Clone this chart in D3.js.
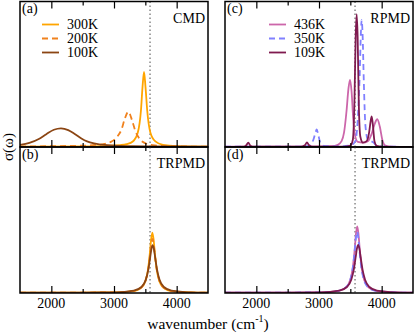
<!DOCTYPE html>
<html>
<head>
<meta charset="utf-8">
<script src="https://cdn.jsdelivr.net/npm/d3@7"></script>
<style>
  body { margin: 0; background: #fff; }
  svg text { font-family: "Liberation Serif", "Times New Roman", "DejaVu Serif", serif; fill: #000; }
</style>
</head>
<body>
<svg id="chart" width="415" height="334"></svg>
<script>
const xTicks = [2000, 3000, 4000];
const xMinor = [2500, 3500];
const refLine = 3575; // dotted reference position

const cmdTemps = ["300K", "200K", "100K"];
const rpmdTemps = ["436K", "350K", "109K"];

// panel (a) CMD, [wavenumber, intensity]
const cmd300 = [[1500,0.002],[2500,0.004],[2900,0.008],[3100,0.013],[3200,0.02],[3300,0.038],[3380,0.1],[3430,0.25],[3455,0.41],[3479,0.514],[3503,0.41],[3530,0.25],[3580,0.1],[3660,0.038],[3780,0.015],[4000,0.006],[4500,0.003]];
const cmd200 = [[1500,0.004],[2400,0.008],[2700,0.014],[2850,0.022],[2950,0.035],[3050,0.07],[3120,0.12],[3170,0.19],[3228,0.242],[3290,0.18],[3340,0.11],[3420,0.05],[3520,0.022],[3650,0.011],[4000,0.005],[4500,0.002]];
const cmd100 = [[1500,0.014],[1650,0.028],[1800,0.055],[1920,0.088],[2040,0.118],[2154,0.128],[2270,0.116],[2380,0.087],[2480,0.058],[2570,0.038],[2680,0.024],[2800,0.016],[3000,0.009],[3300,0.006],[3600,0.004],[4500,0.002]];

// panel (b) TRPMD, same temperatures as (a)
const trpA300 = [[1500,0.002],[2500,0.003],[3000,0.004],[3312,0.013],[3432,0.035],[3502,0.083],[3542,0.158],[3572,0.271],[3592,0.366],[3612,0.414],[3632,0.366],[3652,0.271],[3682,0.158],[3722,0.083],[3792,0.035],[3912,0.013],[4212,0.004],[4500,0.002]];
const trpA200 = [[1500,0.002],[2500,0.003],[3014,0.004],[3314,0.014],[3434,0.037],[3504,0.085],[3544,0.157],[3574,0.256],[3594,0.333],[3614,0.37],[3634,0.333],[3654,0.256],[3684,0.157],[3724,0.085],[3794,0.037],[3914,0.014],[4214,0.004],[4500,0.002]];
const trpA100 = [[1500,0.002],[2500,0.003],[3017,0.004],[3317,0.016],[3437,0.041],[3507,0.09],[3547,0.159],[3577,0.243],[3597,0.301],[3617,0.327],[3637,0.301],[3657,0.243],[3687,0.159],[3727,0.09],[3797,0.041],[3917,0.016],[4217,0.004],[4500,0.002]];

// panel (c) RPMD
const rpmd436 = [[1500,0.002],[2800,0.003],[3200,0.006],[3300,0.015],[3360,0.04],[3400,0.1],[3440,0.25],[3470,0.4],[3495,0.46],[3520,0.38],[3545,0.2],[3575,0.08],[3620,0.035],[3700,0.03],[3780,0.04],[3840,0.09],[3890,0.16],[3930,0.19],[3970,0.14],[4010,0.05],[4060,0.01],[4150,0.003],[4500,0.001]];
const rpmd350 = [[1500,0.002],[2700,0.003],[2850,0.01],[2910,0.05],[2945,0.1],[2963,0.12],[2985,0.09],[3020,0.03],[3080,0.008],[3300,0.004],[3500,0.01],[3580,0.04],[3620,0.2],[3650,0.5],[3670,0.8],[3681,0.87],[3695,0.78],[3715,0.45],[3740,0.15],[3780,0.05],[3830,0.04],[3870,0.03],[3920,0.01],[4000,0.003],[4500,0.001]];
const rpmd109 = [[1500,0.001],[1800,0.002],[1840,0.012],[1872,0.03],[1900,0.012],[1940,0.002],[2700,0.002],[2775,0.012],[2808,0.032],[2840,0.012],[2900,0.002],[3400,0.002],[3500,0.01],[3540,0.05],[3565,0.3],[3585,0.75],[3601,0.91],[3617,0.75],[3635,0.3],[3660,0.07],[3700,0.03],[3760,0.04],[3800,0.1],[3825,0.18],[3841,0.21],[3860,0.15],[3885,0.04],[3920,0.008],[4000,0.002],[4500,0.001]];

// panel (d) TRPMD, same temperatures as (c)
const trpC436 = [[1500,0.002],[2500,0.003],[3010,0.004],[3310,0.015],[3430,0.039],[3500,0.091],[3540,0.175],[3570,0.299],[3590,0.404],[3610,0.457],[3630,0.404],[3650,0.299],[3680,0.175],[3720,0.091],[3790,0.039],[3910,0.015],[4210,0.004],[4500,0.002]];
const trpC350 = [[1500,0.002],[2500,0.003],[3008,0.004],[3308,0.015],[3428,0.038],[3498,0.089],[3538,0.168],[3568,0.282],[3588,0.374],[3608,0.42],[3628,0.374],[3648,0.282],[3678,0.168],[3718,0.089],[3788,0.038],[3908,0.015],[4208,0.004],[4500,0.002]];
const trpC109 = [[1500,0.002],[2500,0.003],[3025,0.004],[3325,0.016],[3445,0.041],[3515,0.091],[3555,0.16],[3585,0.245],[3605,0.304],[3625,0.33],[3645,0.304],[3665,0.245],[3695,0.16],[3735,0.091],[3805,0.041],[3925,0.016],[4225,0.004],[4500,0.002]];

const cmdColors = ["#ffa500", "#f0821e", "#8b4513"];
const rpmdColors = ["#cc66aa", "#8080ff", "#7f1a4f"];
const dashes = [null, "6,4", null];

const serif = "Liberation Serif, Times New Roman, DejaVu Serif, serif";
const svg = d3.select("#chart");

const cols = [[20, 208], [225, 413]];
const rows = [[1.5, 147], [147, 293]];

const panels = [
    { col: 0, row: 0, tag: "(a)", name: "CMD", series: [cmd300, cmd200, cmd100], colors: cmdColors, legend: cmdTemps },
    { col: 0, row: 1, tag: "(b)", name: "TRPMD", series: [trpA300, trpA200, trpA100], colors: cmdColors },
    { col: 1, row: 0, tag: "(c)", name: "RPMD", series: [rpmd436, rpmd350, rpmd109], colors: rpmdColors, legend: rpmdTemps },
    { col: 1, row: 1, tag: "(d)", name: "TRPMD", series: [trpC436, trpC350, trpC109], colors: rpmdColors }
];

panels.forEach((p, i) => {
    const [x0, x1] = cols[p.col];
    const [y0, y1] = rows[p.row];
    const x = d3.scaleLinear().domain([1500, 4500]).range([x0, x1]);
    const y = d3.scaleLinear().domain([0, 1]).range([y1, y1 - 146]);

    const g = svg.append("g");

    g.append("clipPath").attr("id", "clip" + i)
        .append("rect").attr("x", x0).attr("y", y0).attr("width", x1 - x0).attr("height", y1 - y0);

    // dotted reference line
    g.append("line")
        .attr("x1", x(refLine)).attr("x2", x(refLine))
        .attr("y1", y0).attr("y2", y1)
        .attr("stroke", "#888").attr("stroke-width", 1.5)
        .attr("stroke-dasharray", "1.5,2.5");

    const line = d3.line()
        .x(d => x(d[0]))
        .y(d => y(d[1]))
        .curve(d3.curveMonotoneX);

    const curves = g.append("g").attr("clip-path", `url(#clip${i})`);
    p.series.forEach((s, k) => {
        curves.append("path")
            .datum(s)
            .attr("d", line)
            .attr("fill", "none")
            .attr("stroke", p.colors[k])
            .attr("stroke-width", 1.8)
            .attr("stroke-dasharray", dashes[k]);
    });

    // ticks pointing inward on top and bottom
    const bottomAxis = g.append("g").attr("transform", `translate(0,${y1})`)
        .call(d3.axisBottom(x).tickValues(xTicks).tickSize(-7).tickFormat(""));
    const bottomMinor = g.append("g").attr("transform", `translate(0,${y1})`)
        .call(d3.axisBottom(x).tickValues(xMinor).tickSize(-4).tickFormat(""));
    const topAxis = g.append("g").attr("transform", `translate(0,${y0})`)
        .call(d3.axisTop(x).tickValues(xTicks).tickSize(-7).tickFormat(""));
    const topMinor = g.append("g").attr("transform", `translate(0,${y0})`)
        .call(d3.axisTop(x).tickValues(xMinor).tickSize(-4).tickFormat(""));
    [bottomAxis, bottomMinor, topAxis, topMinor].forEach(a => {
        a.select(".domain").remove();
        a.selectAll("line").attr("stroke", "#000").attr("stroke-width", 1.2);
    });

    // tick labels under the bottom row
    if (p.row === 1) {
        g.selectAll(".tlab").data(xTicks).join("text")
            .attr("x", d => x(d)).attr("y", 308)
            .attr("text-anchor", "middle")
            .attr("font-family", serif)
            .attr("font-size", 14)
            .text(d => d);
    }

    // frame
    g.append("rect")
        .attr("x", x0).attr("y", y0).attr("width", x1 - x0).attr("height", y1 - y0)
        .attr("fill", "none").attr("stroke", "#000").attr("stroke-width", 1.5);

    g.append("text").attr("x", x0 + 2).attr("y", y0 + 11.5)
        .attr("font-family", serif).attr("font-size", 14).text(p.tag);
    g.append("text").attr("x", x1 - 3).attr("y", y0 + 21.3)
        .attr("text-anchor", "end").attr("font-family", serif).attr("font-size", 14).text(p.name);

    if (p.legend) {
        const lx = p.col === 0 ? 42 : 269;
        const rowsY = [24.5, 38.5, 52.5];
        p.legend.forEach((lab, k) => {
            g.append("line")
                .attr("x1", lx).attr("x2", lx + 17)
                .attr("y1", rowsY[k]).attr("y2", rowsY[k])
                .attr("stroke", p.colors[k]).attr("stroke-width", 1.8)
                .attr("stroke-dasharray", dashes[k]);
            g.append("text")
                .attr("x", lx + 25).attr("y", rowsY[k]).attr("dy", "0.35em")
                .attr("font-family", serif).attr("font-size", 14).text(lab);
        });
    }
});

// axis titles
const xt = svg.append("text")
    .attr("x", 208).attr("y", 329)
    .attr("text-anchor", "middle").attr("font-family", serif).attr("font-size", 15.5);
xt.append("tspan").text("wavenumber (cm");
xt.append("tspan").attr("font-size", 10).attr("dy", -7).text("-1");
xt.append("tspan").attr("dy", 7).text(")");

svg.append("text")
    .attr("transform", "translate(13,147) rotate(-90)")
    .attr("text-anchor", "middle").attr("font-family", serif).attr("font-size", 15)
    .text("σ(ω)");
</script>
</body>
</html>
